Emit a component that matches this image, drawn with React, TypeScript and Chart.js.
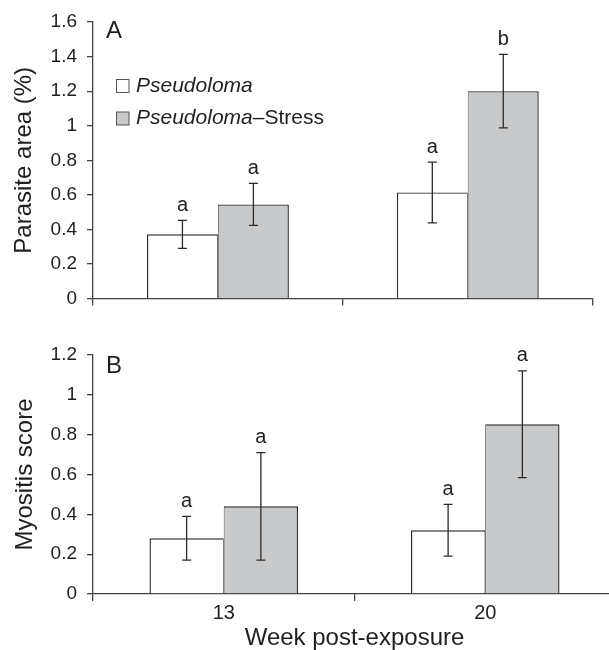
import React, { useEffect, useRef } from "react";
import { Chart, registerables } from "chart.js";

Chart.register(...registerables);

// ---------- data ----------
const weeks = ["13", "20"];
const seriesItalic = ["Pseudoloma", "Pseudoloma"];
const seriesSuffix = ["", "–Stress"];
const seriesFill = ["#ffffff", "#c8c9cb"];

const parasitePlain = [0.372, 0.614];
const parasitePlainErr = [0.081, 0.176];
const parasiteStress = [0.545, 1.2];
const parasiteStressErr = [0.121, 0.213];
const parasitePlainLetters = ["a", "a"];
const parasiteStressLetters = ["a", "b"];
const parasiteTicks = [0, 0.2, 0.4, 0.6, 0.8, 1, 1.2, 1.4, 1.6];
const parasiteTickLabels = ["0", "0.2", "0.4", "0.6", "0.8", "1", "1.2", "1.4", "1.6"];

const myositisPlain = [0.28, 0.32];
const myositisPlainErr = [0.11, 0.13];
const myositisStress = [0.44, 0.852];
const myositisStressErr = [0.27, 0.268];
const myositisPlainLetters = ["a", "a"];
const myositisStressLetters = ["a", "a"];
const myositisTicks = [0, 0.2, 0.4, 0.6, 0.8, 1, 1.2];
const myositisTickLabels = ["0", "0.2", "0.4", "0.6", "0.8", "1", "1.2"];

// ---------- styles ----------
const FONT = "'Liberation Sans', Arial, Helvetica, sans-serif";
const TEXT = "#1f1f1f";
const AXIS = "#444444";
const EDGE = "#2a2a2a";

type PanelSpec = {
  tag: string;
  yTitle: string;
  plain: number[];
  plainErr: number[];
  stress: number[];
  stressErr: number[];
  plainLetters: string[];
  stressLetters: string[];
  ticks: number[];
  tickLabels: string[];
  yMax: number;
  padTop: number;
  padRight: number;
  xHeight: number;
  yTitlePad: number;
  showXLabels: boolean;
  showLegend: boolean;
  tagY: number;
};

function makeOverlay(p: PanelSpec) {
  return {
    id: "overlay" + p.tag,
    afterDatasetsDraw(chart: any) {
      const ctx = chart.ctx;
      const y = chart.scales.y;
      const errs = [p.plainErr, p.stressErr];
      const letters = [p.plainLetters, p.stressLetters];
      ctx.save();
      chart.data.datasets.forEach((ds: any, di: number) => {
        const meta = chart.getDatasetMeta(di);
        meta.data.forEach((bar: any, i: number) => {
          const v = ds.data[i] as number;
          const e = errs[di][i];
          const yT = y.getPixelForValue(v + e);
          const yB = y.getPixelForValue(v - e);
          const x = bar.x;
          ctx.strokeStyle = EDGE;
          ctx.lineWidth = 1.3;
          ctx.beginPath();
          ctx.moveTo(x, yT);
          ctx.lineTo(x, yB);
          ctx.moveTo(x - 4.5, yT);
          ctx.lineTo(x + 4.5, yT);
          ctx.moveTo(x - 4.5, yB);
          ctx.lineTo(x + 4.5, yB);
          ctx.stroke();
          ctx.fillStyle = TEXT;
          ctx.font = `20px ${FONT}`;
          ctx.textAlign = "center";
          ctx.textBaseline = "middle";
          ctx.fillText(letters[di][i], x, yT - 15);
        });
      });
      // panel tag
      ctx.fillStyle = TEXT;
      ctx.font = `24px ${FONT}`;
      ctx.textAlign = "left";
      ctx.textBaseline = "middle";
      ctx.fillText(p.tag, 106, p.tagY);
      // legend
      if (p.showLegend) {
        const rows = [86, 118.5];
        seriesItalic.forEach((name, si) => {
          const cy = rows[si];
          ctx.fillStyle = seriesFill[si];
          ctx.fillRect(116.5, cy - 6.5, 12.5, 13);
          ctx.strokeStyle = "#555";
          ctx.lineWidth = 1;
          ctx.strokeRect(116.5, cy - 6.5, 12.5, 13);
          ctx.fillStyle = TEXT;
          ctx.textAlign = "left";
          ctx.textBaseline = "middle";
          ctx.font = `italic 21px ${FONT}`;
          ctx.fillText(name, 136, cy);
          const w = ctx.measureText(name).width;
          if (seriesSuffix[si]) {
            ctx.font = `21px ${FONT}`;
            ctx.fillText(seriesSuffix[si], 136 + w, cy);
          }
        });
      }
      ctx.restore();
    },
  };
}

function makeConfig(p: PanelSpec): any {
  return {
    type: "bar",
    data: {
      labels: weeks,
      datasets: [
        {
          label: seriesItalic[0] + seriesSuffix[0],
          data: p.plain,
          backgroundColor: seriesFill[0],
          borderColor: EDGE,
          borderWidth: { top: 1.4, left: 1.4, right: 0.8, bottom: 0 },
          borderSkipped: "start",
        },
        {
          label: seriesItalic[1] + seriesSuffix[1],
          data: p.stress,
          backgroundColor: seriesFill[1],
          borderColor: EDGE,
          borderWidth: { top: 1.4, left: 0.8, right: 1.4, bottom: 0 },
          borderSkipped: "start",
        },
      ],
    },
    options: {
      responsive: false,
      animation: false,
      events: [],
      layout: { padding: { top: p.padTop, right: p.padRight, left: 0, bottom: 0 } },
      plugins: { legend: { display: false }, tooltip: { enabled: false } },
      datasets: { bar: { categoryPercentage: 0.568, barPercentage: 1 } },
      scales: {
        x: {
          type: "category",
          offset: true,
          grid: {
            offset: true,
            drawOnChartArea: false,
            drawTicks: true,
            tickLength: 7,
            color: AXIS,
            lineWidth: 1.3,
          },
          border: { display: true, color: AXIS, width: 1.3 },
          ticks: {
            display: p.showXLabels,
            font: { family: FONT, size: 20 },
            color: TEXT,
            padding: 0,
            maxRotation: 0,
          },
          title: {
            display: p.showXLabels,
            text: "Week post-exposure",
            font: { family: FONT, size: 24 },
            color: TEXT,
            padding: { top: 0, bottom: 3.6 },
          },
          afterFit: (s: any) => {
            s.height = p.xHeight;
          },
        },
        y: {
          min: 0,
          max: p.yMax,
          afterBuildTicks: (s: any) => {
            s.ticks = p.ticks.map((v) => ({ value: v }));
          },
          grid: {
            drawOnChartArea: false,
            drawTicks: true,
            tickLength: 6,
            color: AXIS,
            lineWidth: 1.3,
          },
          border: { display: true, color: AXIS, width: 1.3 },
          ticks: {
            font: { family: FONT, size: 19 },
            color: TEXT,
            padding: 10,
            callback: (_v: any, i: number) => p.tickLabels[i],
          },
          title: {
            display: true,
            text: p.yTitle,
            font: { family: FONT, size: 24 },
            color: TEXT,
            padding: { top: p.yTitlePad, bottom: 0 },
          },
          afterFit: (s: any) => {
            s.width = 93;
          },
        },
      },
    },
    plugins: [makeOverlay(p)],
  };
}

const panelA: PanelSpec = {
  tag: "A",
  yTitle: "Parasite area (%)",
  plain: parasitePlain,
  plainErr: parasitePlainErr,
  stress: parasiteStress,
  stressErr: parasiteStressErr,
  plainLetters: parasitePlainLetters,
  stressLetters: parasiteStressLetters,
  ticks: parasiteTicks,
  tickLabels: parasiteTickLabels,
  yMax: 1.6,
  padTop: 22,
  padRight: 16.3,
  xHeight: 19,
  yTitlePad: 10,
  showXLabels: false,
  showLegend: true,
  tagY: 31,
};

const panelB: PanelSpec = {
  tag: "B",
  yTitle: "Myositis score",
  plain: myositisPlain,
  plainErr: myositisPlainErr,
  stress: myositisStress,
  stressErr: myositisStressErr,
  plainLetters: myositisPlainLetters,
  stressLetters: myositisStressLetters,
  ticks: myositisTicks,
  tickLabels: myositisTickLabels,
  yMax: 1.2,
  padTop: 35,
  padRight: 0,
  xHeight: 62,
  yTitlePad: 11,
  showXLabels: true,
  showLegend: false,
  tagY: 46,
};

export default function App() {
  const refA = useRef<HTMLCanvasElement | null>(null);
  const refB = useRef<HTMLCanvasElement | null>(null);

  useEffect(() => {
    const a = new Chart(refA.current as HTMLCanvasElement, makeConfig(panelA));
    const b = new Chart(refB.current as HTMLCanvasElement, makeConfig(panelB));
    return () => {
      a.destroy();
      b.destroy();
    };
  }, []);

  return (
    <div
      style={{
        position: "absolute",
        left: 0,
        top: 0,
        width: 609,
        height: 650,
        overflow: "hidden",
        background: "#ffffff",
      }}
    >
      <canvas
        ref={refA}
        width={609}
        height={320}
        style={{ position: "absolute", left: 0, top: 0, width: 609, height: 320 }}
      />
      <canvas
        ref={refB}
        width={616}
        height={336}
        style={{ position: "absolute", left: 0, top: 320, width: 616, height: 336 }}
      />
    </div>
  );
}
